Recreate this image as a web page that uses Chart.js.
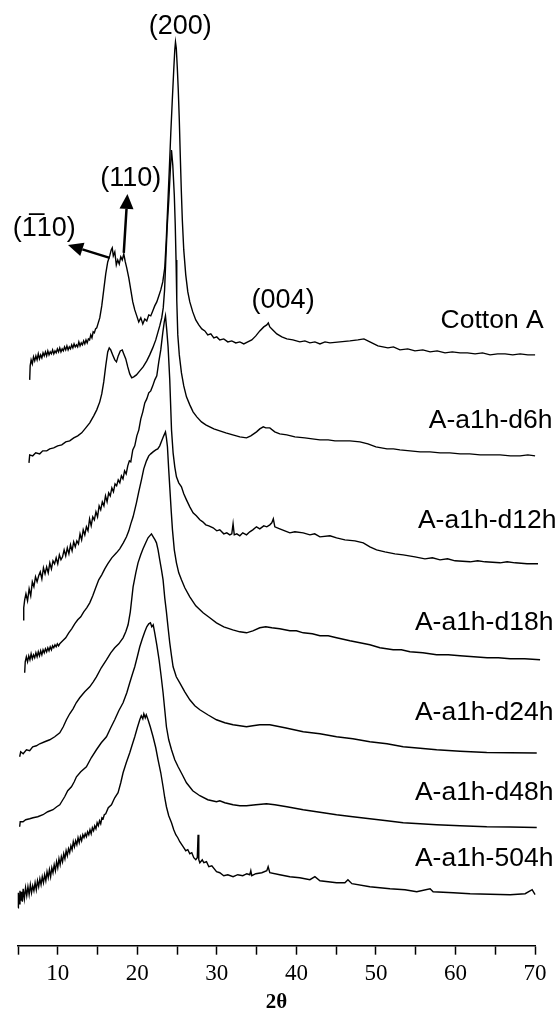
<!DOCTYPE html>
<html>
<head>
<meta charset="utf-8">
<script src="https://cdn.jsdelivr.net/npm/chart.js@4.4.1/dist/chart.umd.min.js"></script>
<style>
html, body { margin: 0; padding: 0; background: #fff; }
</style>
</head>
<body>
<canvas id="xrd" width="557" height="1019"></canvas>
<script>
// sample names, top curve first
const sampleNames = ['Cotton A', 'A-a1h-d6h', 'A-a1h-d12h', 'A-a1h-d18h', 'A-a1h-d24h', 'A-a1h-d48h', 'A-a1h-504h'];
// vertical shift of each pattern (a.u.)
const offsets = [590, 489, 382, 286, 193, 118, 51];

// [2theta, intensity]
const cottonA = [[6.47,-24],[6.53,-10],[6.65,-4],[6.8,-8],[6.95,-1],[7.1,-5],[7.25,0],[7.4,-4],[7.55,2],[7.7,-3],[7.85,1],[8.0,-2],[8.15,3],[8.3,0],[8.45,4],[8.6,0],[8.75,5],[8.9,1],[9.05,4],[9.2,2],[9.35,6],[9.5,2],[9.65,5],[9.8,3],[9.95,7],[10.1,4],[10.25,8],[10.4,4],[10.55,7],[10.7,5],[10.85,9],[11.0,6],[11.15,10],[11.3,6],[11.45,9],[11.6,7],[11.75,11],[11.9,8],[12.05,12],[12.2,9],[12.35,11],[12.5,9],[12.65,14],[12.8,10],[12.95,13],[13.1,11],[13.25,15],[13.4,12],[13.55,16],[13.7,13],[13.85,17],[14.0,16],[14.15,21],[14.3,18],[14.45,24],[14.6,23],[14.75,27],[14.9,28],[15.28,38],[15.53,50],[15.78,66],[16.03,82],[16.28,94],[16.53,100],[16.72,106],[16.85,108],[16.98,100],[17.17,104],[17.36,91],[17.54,96],[17.73,92],[17.92,99],[18.11,96],[18.3,102],[18.49,94],[18.67,88],[18.93,78],[19.18,66],[19.43,54],[19.68,46],[19.93,40],[20.18,34],[20.44,38],[20.69,32],[20.94,37],[21.19,35],[21.44,41],[21.69,40],[21.94,45],[22.19,50],[22.45,54],[22.7,60],[22.95,66],[23.2,74],[23.45,88],[23.64,116],[23.83,151],[24.02,186],[24.21,223],[24.4,256],[24.58,286],[24.71,306],[24.8,314],[24.9,308],[25.03,288],[25.15,266],[25.28,236],[25.4,201],[25.53,166],[25.66,136],[25.84,106],[26.09,81],[26.35,64],[26.6,54],[26.97,44],[27.35,36],[27.73,31],[28.11,27],[28.49,25],[28.86,21],[29.24,22],[29.62,18],[29.99,19],[30.37,16],[30.87,17],[31.38,14],[31.88,15],[32.38,13],[32.89,14],[33.39,12],[33.89,14],[34.39,16],[34.9,20],[35.4,25],[35.9,29],[36.28,31],[36.47,33],[36.66,29],[37.04,26],[37.54,22],[38.17,19],[38.8,17],[39.56,16],[40.43,14],[41.07,15],[41.7,13],[42.33,14],[42.96,12],[43.6,14],[44.22,13],[45.48,14],[46.73,15],[47.73,16],[48.49,17],[49.24,14],[50.25,10],[51.51,8],[52.2,9],[53.02,6],[54.0,7],[54.91,5],[55.9,6],[56.81,4],[57.7,5],[58.69,3],[59.6,4],[60.58,3],[61.5,3],[62.47,2],[63.4,3],[64.35,1],[65.3,2],[66.24,2],[67.2,1],[68.13,2],[69.1,1],[70.01,1],[70.7,1],[71.27,0]];

const d6h = [[6.38,-6],[6.47,2],[6.85,1],[7.23,4],[7.73,3],[8.11,6],[8.61,6],[8.99,8],[9.49,9],[9.99,11],[10.5,12],[11.0,15],[11.5,16],[12.01,19],[12.51,21],[13.01,24],[13.52,29],[14.02,34],[14.52,41],[14.9,47],[15.28,55],[15.53,63],[15.78,75],[16.03,91],[16.28,105],[16.47,109],[16.66,107],[16.91,102],[17.17,97],[17.38,95],[17.6,101],[17.86,106],[18.11,107],[18.3,103],[18.55,98],[18.8,90],[19.05,83],[19.3,79],[19.55,80],[19.89,82],[20.31,86],[20.73,90],[21.19,96],[21.56,102],[21.94,109],[22.32,117],[22.57,124],[22.82,131],[23.07,139],[23.26,149],[23.43,167],[23.58,197],[23.77,232],[23.96,257],[24.15,287],[24.3,307],[24.46,292],[24.65,262],[24.77,232],[24.87,197],[24.96,157],[25.09,122],[25.28,102],[25.55,84],[25.84,71],[26.18,60],[26.6,52],[27.01,45],[27.48,40],[28.07,35],[28.61,32],[29.11,30],[29.62,28],[30.37,26],[31.13,24],[32.0,22],[32.89,20],[33.73,19],[34.27,21],[34.99,25],[35.4,28],[35.84,30],[36.15,29],[36.66,29],[37.28,25],[37.91,23],[38.8,22],[39.81,20],[41.07,19],[42.0,18],[42.96,17],[44.0,17],[44.85,16],[46.73,16],[47.99,15],[48.99,13],[50.0,10],[51.39,8],[52.2,8],[53.02,7],[54.3,6],[55.55,5],[56.8,5],[58.06,4],[59.3,4],[60.58,3],[61.8,3],[63.1,2],[64.4,2],[65.61,2],[66.9,1],[68.13,1],[69.1,2],[70.01,1],[70.8,1],[71.48,0]];

const d12h = [[5.63,-56],[5.72,-44],[5.84,-36],[6.0,-30],[6.2,-37],[6.4,-25],[6.6,-32],[6.8,-18],[7.0,-23],[7.2,-13],[7.4,-18],[7.6,-12],[7.8,-8],[8.0,-15],[8.2,-4],[8.4,-10],[8.6,-3],[8.8,-9],[9.0,1],[9.2,-5],[9.4,3],[9.6,0],[9.8,6],[10.0,0],[10.2,9],[10.4,4],[10.6,7],[10.8,14],[11.0,8],[11.2,16],[11.4,10],[11.6,19],[11.8,13],[12.0,22],[12.2,17],[12.4,23],[12.6,20],[12.8,30],[13.0,24],[13.2,34],[13.4,29],[13.6,37],[13.8,33],[14.0,45],[14.2,38],[14.4,47],[14.6,44],[14.8,52],[15.0,47],[15.2,58],[15.4,54],[15.6,62],[15.8,58],[16.0,68],[16.2,62],[16.4,71],[16.6,68],[16.8,76],[17.0,72],[17.2,80],[17.4,78],[17.6,84],[17.8,81],[18.0,88],[18.2,85],[18.4,93],[18.6,90],[18.8,98],[19.0,103],[19.18,102],[19.43,114],[19.68,118],[19.94,128],[20.19,134],[20.44,145],[20.69,152],[20.94,161],[21.19,165],[21.44,171],[21.69,173],[21.94,178],[22.2,184],[22.45,188],[22.7,202],[22.95,214],[23.2,231],[23.39,242],[23.54,248],[23.7,234],[23.87,217],[24.08,184],[24.3,134],[24.5,111],[24.71,97],[24.92,87],[25.21,81],[25.55,77],[25.84,70],[26.18,64],[26.6,57],[27.01,51],[27.42,48],[27.86,44],[28.23,42],[28.61,39],[28.99,38],[29.53,36],[29.99,33],[30.37,34],[30.87,30],[31.25,31],[31.63,29],[31.88,30],[32.04,40],[32.19,29],[32.51,30],[32.89,28],[33.26,31],[33.73,29],[34.14,32],[34.52,34],[34.98,37],[35.4,35],[35.9,38],[36.28,37],[36.66,39],[36.91,41],[37.1,45],[37.29,37],[37.91,35],[38.55,33],[39.18,31],[39.81,32],[40.86,31],[41.7,29],[42.3,30],[42.96,27],[44.22,28],[45.05,26],[46.1,24],[47.36,23],[48.41,21],[49.24,17],[50.08,14],[51.13,12],[52.39,10],[53.43,9],[54.91,7],[56.16,5],[57.1,6],[58.06,4],[59.0,5],[59.95,3],[61.84,2],[62.8,3],[63.72,2],[65.61,1],[66.5,2],[67.5,1],[69.0,0],[70.38,0]];

const d18h = [[5.84,-13],[5.91,-2],[6.05,3],[6.2,-2],[6.35,4],[6.5,0],[6.65,6],[6.8,1],[6.95,5],[7.1,2],[7.25,7],[7.4,3],[7.55,8],[7.7,4],[7.85,9],[8.0,5],[8.15,10],[8.3,7],[8.45,11],[8.6,8],[8.75,12],[8.9,9],[9.05,13],[9.2,10],[9.35,14],[9.5,12],[9.65,15],[9.8,13],[9.95,16],[10.1,14],[10.25,16],[10.62,19],[11.0,22],[11.38,27],[11.75,31],[12.13,36],[12.51,40],[12.89,43],[13.26,48],[13.64,52],[14.02,57],[14.4,64],[14.77,72],[15.15,80],[15.53,85],[15.91,91],[16.28,96],[16.79,102],[17.38,107],[17.79,111],[18.24,117],[18.64,123],[18.93,129],[19.18,136],[19.47,143],[19.68,150],[19.89,157],[20.18,168],[20.52,180],[20.81,191],[21.15,199],[21.44,204],[21.69,206],[21.98,208],[22.32,210],[22.57,211],[22.82,214],[23.07,219],[23.32,224],[23.54,228],[23.66,222],[23.79,213],[23.95,190],[24.08,173],[24.27,148],[24.42,130],[24.65,110],[24.92,97],[25.21,87],[25.55,80],[25.97,72],[26.6,63],[27.35,54],[28.27,47],[29.11,42],[29.95,37],[30.87,33],[32.0,30],[32.89,28],[33.73,27],[34.52,29],[35.4,32],[36.15,33],[36.91,32],[37.91,31],[39.18,29],[40.0,29],[40.86,27],[42.0,26],[42.96,24],[44.0,24],[45.05,22],[46.73,19],[47.99,17],[49.24,15],[50.5,12],[52.17,10],[53.2,10],[54.28,8],[55.9,7],[57.63,5],[59.1,5],[60.58,4],[62.3,3],[63.98,2],[65.4,2],[66.87,1],[68.7,1],[70.64,0]];

const d24h = [[5.21,-4],[5.34,1],[5.65,-1],[6.06,3],[6.47,2],[6.85,6],[7.31,7],[7.73,9],[8.36,11],[8.99,13],[9.62,16],[10.25,20],[10.69,26],[11.09,33],[11.5,39],[11.92,44],[12.32,50],[12.76,55],[13.39,61],[14.02,66],[14.46,71],[14.86,76],[15.47,85],[16.12,93],[16.66,100],[17.16,105],[17.67,109],[18.21,115],[18.55,121],[18.84,128],[19.12,141],[19.47,166],[19.81,180],[20.09,190],[20.43,198],[20.72,204],[21.06,210],[21.35,215],[21.56,217],[21.78,219],[22.0,216],[22.23,213],[22.41,210],[22.61,203],[22.82,193],[23.04,183],[23.24,173],[23.45,155],[23.66,141],[23.87,125],[24.08,110],[24.3,97],[24.5,86],[24.9,76],[25.34,70],[25.97,61],[26.6,53],[27.23,47],[27.86,43],[28.86,38],[29.95,33],[31.0,30],[32.04,28],[32.89,27],[33.73,26],[34.52,27],[35.4,28],[36.66,28],[38.55,25],[40.86,21],[42.96,19],[45.05,16],[47.1,14],[49.24,11],[51.39,9],[53.43,6],[55.55,4.5],[57.63,3],[60.58,1.5],[63.93,0.3],[66.87,0],[70.22,-0.3]];

const d48h = [[5.21,1],[5.28,6],[5.63,6],[5.97,8],[6.47,9],[6.89,10],[7.48,11],[8.14,13],[8.74,16],[9.4,18],[9.87,21],[10.25,23],[10.56,27],[10.87,31],[11.25,37],[11.72,41],[12.07,46],[12.35,51],[12.89,56],[13.6,61],[14.21,70],[14.86,78],[15.47,85],[16.12,91],[16.66,100],[17.16,108],[17.67,117],[18.21,125],[18.68,135],[19.05,145],[19.36,153],[19.68,161],[20.0,171],[20.31,181],[20.63,189],[20.94,196],[21.19,201],[21.44,204],[21.65,205],[21.82,201],[22.0,203],[22.19,195],[22.45,183],[22.74,168],[22.99,152],[23.24,135],[23.45,118],[23.66,101],[23.95,88],[24.3,78],[24.71,68],[25.13,61],[25.66,53],[26.18,45],[26.97,37],[27.86,32],[28.86,28],[29.95,26],[30.37,27],[31.0,25],[32.04,23],[32.89,22],[33.73,22],[34.9,23],[36.24,24],[37.29,23],[38.8,21],[40.86,18],[42.96,15.5],[45.05,13],[47.1,11],[49.24,9],[51.39,7],[53.43,5],[55.55,4],[57.63,3],[60.58,2],[63.93,1],[66.87,0.7],[70.22,0.3]];

const h504 = [[5.0,-13],[5.05,2],[5.15,-9],[5.25,4],[5.35,-6],[5.45,3],[5.55,-7],[5.65,6],[5.8,-4],[5.95,7],[6.1,-1],[6.25,8],[6.4,0],[6.55,10],[6.7,2],[6.85,9],[7.0,4],[7.15,12],[7.3,5],[7.45,14],[7.6,8],[7.75,16],[7.9,10],[8.05,18],[8.2,12],[8.35,20],[8.5,14],[8.65,23],[8.8,17],[8.95,25],[9.1,18],[9.25,27],[9.4,22],[9.55,30],[9.7,24],[9.85,33],[10.0,27],[10.15,36],[10.3,30],[10.45,38],[10.6,33],[10.75,41],[10.9,36],[11.05,44],[11.2,39],[11.35,46],[11.5,42],[11.65,49],[11.8,45],[11.95,53],[12.1,48],[12.25,54],[12.4,50],[12.55,57],[12.7,52],[12.85,58],[13.0,54],[13.15,60],[13.3,57],[13.45,61],[13.6,58],[13.75,63],[13.9,60],[14.05,65],[14.2,61],[14.35,67],[14.5,64],[14.65,69],[14.8,66],[14.95,72],[15.1,69],[15.25,74],[15.4,71],[15.55,77],[15.7,76],[15.85,80],[16.03,81],[16.35,87],[16.75,90],[17.16,97],[17.58,102],[17.92,112],[18.21,122],[18.61,132],[19.05,142],[19.36,150],[19.68,158],[20.0,167],[20.31,175],[20.5,179],[20.69,176],[20.82,181],[21.0,177],[21.13,180],[21.35,175],[21.63,168],[21.98,158],[22.32,147],[22.61,135],[22.95,122],[23.24,108],[23.45,97],[23.66,88],[23.95,79],[24.3,72],[24.58,65],[24.84,60],[25.09,57],[25.34,53],[25.59,50],[25.84,47],[26.09,44],[26.35,45],[26.6,41],[26.85,42],[27.1,37],[27.35,35],[27.54,37],[27.64,60],[27.73,35],[27.86,32],[28.17,35],[28.36,32],[28.7,33],[28.99,28],[29.37,29],[29.96,23],[30.37,22],[30.87,19],[31.38,20],[32.04,18],[32.63,20],[33.26,19],[33.77,21],[34.14,20],[34.27,24],[34.39,19],[34.9,21],[35.65,22],[36.28,24],[36.45,28],[36.66,22],[37.91,20],[39.18,18],[40.43,17],[41.7,15],[42.33,18],[42.96,14],[45.05,12],[46.1,12],[46.48,15],[46.98,11],[49.24,8],[51.77,6],[53.65,5],[55.13,3],[56.81,6],[57.19,3],[59.73,2],[61.84,1],[64.35,0.5],[66.87,0],[68.76,1],[69.64,5],[70.01,0]];

const patterns = [cottonA, d6h, d12h, d18h, d24h, d48h, h504];

// sample label anchors [2theta of left edge, baseline height]
const nameX = [58.13, 56.64, 55.28, 54.9, 54.9, 54.9, 54.9];
const nameY = [618, 518, 418, 316, 226, 146, 80];

// Miller indices and where they sit
const peakLabels = ['(200)', '(110)', '(1\u030510)', '(004)'];
const peakX = [25.4, 19.18, 8.3, 38.33];
const peakY = [912, 760, 710, 638];

// arrows [from 2theta, from height, to 2theta, to height]
const arrows = [[16.53, 688, 11.29, 701], [18.3, 693, 18.76, 752]];

const xMin = 5, xMax = 70, xStep = 5;

const annotate = {
	id: 'annotate',
	afterDatasetsDraw(chart) {
		const ctx = chart.ctx;
		const xs = chart.scales.x, ys = chart.scales.y;
		ctx.save();
		ctx.fillStyle = '#000';
		ctx.strokeStyle = '#000';
		ctx.textBaseline = 'alphabetic';

		ctx.font = "26.5px 'Liberation Sans', Arial, sans-serif";
		ctx.textAlign = 'left';
		sampleNames.forEach((n, i) => {
			ctx.fillText(n, xs.getPixelForValue(nameX[i]), ys.getPixelForValue(nameY[i]));
		});

		ctx.font = "27px 'Liberation Sans', Arial, sans-serif";
		ctx.textAlign = 'center';
		peakLabels.forEach((t, i) => {
			ctx.fillText(t, xs.getPixelForValue(peakX[i]), ys.getPixelForValue(peakY[i]));
		});

		ctx.lineWidth = 2.5;
		arrows.forEach(a => {
			const x0 = xs.getPixelForValue(a[0]), y0 = ys.getPixelForValue(a[1]);
			const x1 = xs.getPixelForValue(a[2]), y1 = ys.getPixelForValue(a[3]);
			const ang = Math.atan2(y1 - y0, x1 - x0);
			const head = 15, half = 7;
			const bx = x1 - head * Math.cos(ang), by = y1 - head * Math.sin(ang);
			ctx.beginPath();
			ctx.moveTo(x0, y0);
			ctx.lineTo(bx, by);
			ctx.stroke();
			ctx.beginPath();
			ctx.moveTo(x1, y1);
			ctx.lineTo(bx + half * Math.sin(ang), by - half * Math.cos(ang));
			ctx.lineTo(bx - half * Math.sin(ang), by + half * Math.cos(ang));
			ctx.closePath();
			ctx.fill();
		});
		ctx.restore();
	}
};

new Chart(document.getElementById('xrd'), {
	type: 'line',
	data: {
		datasets: patterns.map((p, i) => ({
			label: sampleNames[i],
			data: p.map(d => ({x: d[0], y: d[1] + offsets[i]})),
			borderColor: '#000',
			borderWidth: 1.4,
			pointRadius: 0,
			tension: 0,
			fill: false,
			clip: false
		}))
	},
	options: {
		responsive: false,
		animation: false,
		layout: { padding: { left: 18, right: 22, top: 0, bottom: 0 } },
		plugins: { legend: { display: false }, tooltip: { enabled: false } },
		scales: {
			x: {
				type: 'linear',
				min: xMin,
				max: xMax,
				border: { display: true, color: '#000', width: 1.5 },
				grid: { drawOnChartArea: false, drawTicks: true, tickLength: 9, tickColor: '#000', tickWidth: 1.5 },
				ticks: {
					stepSize: xStep,
					autoSkip: false,
					maxRotation: 0,
					padding: 5,
					color: '#000',
					font: { family: "'Liberation Serif', 'Times New Roman', serif", size: 23 },
					callback: v => (v % 10 === 0 ? v : '')
				},
				title: {
					display: true,
					text: '2\u03b8',
					color: '#000',
					font: { family: "'Liberation Serif', 'Times New Roman', serif", size: 21, weight: 'bold' },
					padding: { top: -2, bottom: 3.5 }
				}
			},
			y: { display: false, min: 0, max: 946 }
		}
	},
	plugins: [annotate]
});
</script>
</body>
</html>
